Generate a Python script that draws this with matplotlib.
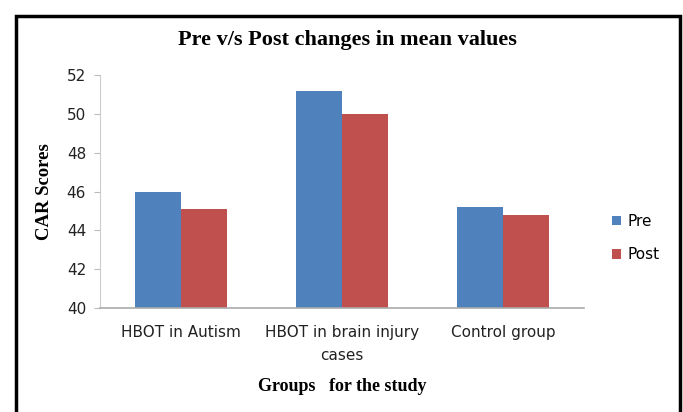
import numpy as np
import matplotlib
matplotlib.use("Agg")
import matplotlib.pyplot as plt
from matplotlib.patches import Rectangle

groups = ["HBOT in Autism", "HBOT in brain injury\ncases", "Control group"]
pre = [46.0, 51.2, 45.2]
post = [45.1, 50.0, 44.8]
yticks = [40, 42, 44, 46, 48, 50, 52]

blue = "#4F81BD"
red = "#C0504D"
sans = ["DejaVu Sans"]
serif = ["Liberation Serif", "DejaVu Serif"]

fig = plt.figure(figsize=(6.83, 4.12), dpi=100)
ax = fig.add_axes([100 / 683, 1 - 308 / 412, 484 / 683, 233 / 412])

x = np.arange(len(groups))
w = 0.2857
ax.bar(x - w / 2, [v - 40 for v in pre], w, bottom=40, color=blue, label="Pre")
ax.bar(x + w / 2, [v - 40 for v in post], w, bottom=40, color=red, label="Post")

ax.set_xlim(-0.5, 2.5)
ax.set_ylim(40, 52)
ax.set_yticks(yticks)
ax.set_xticks(x)
ax.set_xticklabels(groups, family=sans, fontsize=11, color="#222222", linespacing=1.7)
for t in ax.get_yticklabels():
    t.set_family(sans)
    t.set_fontsize(11)
    t.set_color("#222222")
ax.tick_params(axis="x", length=0, pad=12)
ax.tick_params(axis="y", length=4, color="#bbbbbb", pad=6)
for s in ["top", "right"]:
    ax.spines[s].set_visible(False)
ax.spines["left"].set_color("#cccccc")
ax.spines["bottom"].set_color("#aaaaaa")
ax.spines["bottom"].set_linewidth(1.2)

ax.set_ylabel("CAR Scores", family=serif, fontweight="bold", fontsize=13.5, labelpad=10)
ax.set_xlabel("Groups   for the study", family=serif, fontweight="bold", fontsize=13, labelpad=11)
fig.text(347 / 683, 1 - 40 / 412, "Pre v/s Post changes in mean values", family=serif,
         fontweight="bold", fontsize=16, ha="center", va="center")

ax.legend(loc="center left", bbox_to_anchor=(1.03, 0.3), frameon=False,
          prop={"family": sans, "size": 11}, handlelength=0.6, handleheight=0.6,
          handletextpad=0.4, labelspacing=1.2)

fig.patches.append(Rectangle((16 / 683, -0.05), 664 / 683, 1 - 16 / 412 + 0.05,
                             transform=fig.transFigure, fill=False,
                             edgecolor="black", linewidth=2.5))

fig.savefig("out.png", dpi=100)
